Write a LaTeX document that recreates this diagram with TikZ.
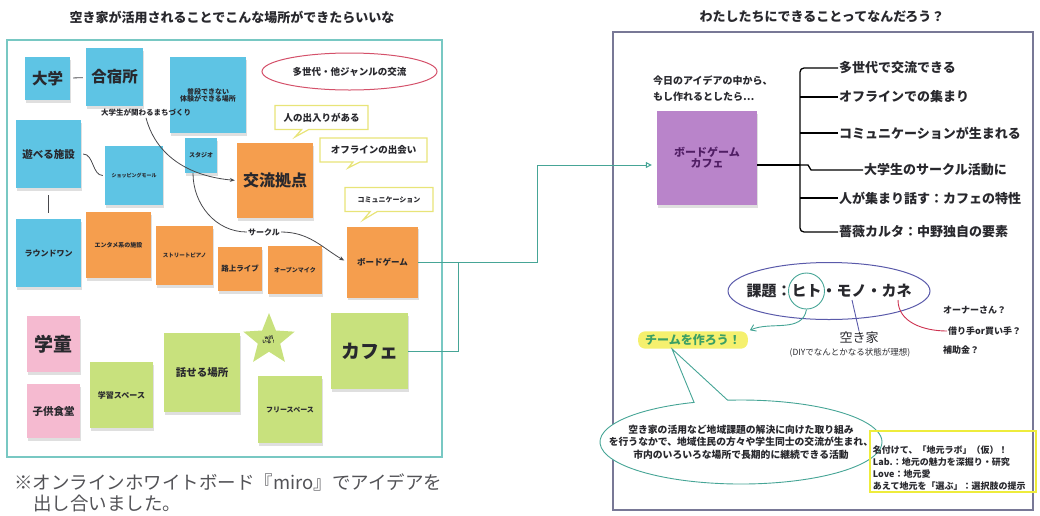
\documentclass[tikz,border=0pt]{standalone}
\usepackage{fontspec}
\setmainfont{Noto Sans CJK JP}
\usetikzlibrary{shapes.geometric,shapes.callouts,arrows.meta,shadows}

\definecolor{noteblue}{RGB}{94,196,228}
\definecolor{noteorange}{RGB}{245,158,78}
\definecolor{notegreen}{RGB}{200,225,125}
\definecolor{notepink}{RGB}{245,186,208}
\definecolor{notepurple}{RGB}{185,132,202}
\definecolor{frameteal}{RGB}{120,200,195}
\definecolor{framegray}{RGB}{120,120,150}
\definecolor{linkteal}{RGB}{70,165,150}
\definecolor{bubbleyellow}{RGB}{232,228,120}
\definecolor{boxyellow}{RGB}{238,236,60}
\definecolor{ringblue}{RGB}{90,90,170}
\definecolor{inkred}{RGB}{205,50,80}
\definecolor{teamgreen}{RGB}{60,160,100}
\definecolor{glow}{RGB}{245,240,110}
\definecolor{ink}{RGB}{40,40,45}

\newcommand{\jpsize}[1]{\fontsize{#1}{#1}\selectfont}

\begin{document}
\begin{tikzpicture}[x=1pt, y=-1pt,
    every node/.style={text=ink},
    note/.style={rectangle, inner sep=1pt, align=center,
        drop shadow={shadow xshift=0.5pt, shadow yshift=-2.5pt, opacity=.25}},
    bnote/.style={note, fill=noteblue},
    onote/.style={note, fill=noteorange},
    gnote/.style={note, fill=notegreen},
    pnote/.style={note, fill=notepink},
    bubble/.style={rectangle callout, draw=bubbleyellow, line width=1.2pt, fill=white,
        inner xsep=5pt, minimum height=24pt, font=\jpsize{9.5}\bfseries},
    wire/.style={draw=ink!85, line width=0.8pt},
    flow/.style={wire, -{Stealth[length=5pt, width=4pt]}},
    link/.style={draw=linkteal, line width=1pt},
    tree/.style={draw=black, line width=1.3pt},
    leaf/.style={anchor=west, inner sep=1pt, font=\jpsize{13}\bfseries},
    aside/.style={anchor=west, inner sep=1pt, font=\jpsize{9}\bfseries}]

    \useasboundingbox (0,0) rectangle (1040,515);

    %%%%%%%%%% Frames %%%%%%%%%%
    \draw[draw=frameteal, line width=1.5pt] (7,40) rectangle (442,457);
    \draw[draw=framegray, line width=1.3pt] (613,32) rectangle (1033,510);
    \node[font=\jpsize{13}\bfseries] (lefttitle) at (232,17) {空き家が活用されることでこんな場所ができたらいいな};
    \node[font=\jpsize{13}\bfseries] (righttitle) at (822,17) {わたしたちにできることってなんだろう？};

    %%%%%%%%%% Blue notes %%%%%%%%%%
    \node[bnote, minimum width=45pt, minimum height=43pt, font=\jpsize{15.5}\bfseries] (daigaku) at (47.5,78.5) {大学};
    \node[bnote, minimum width=57pt, minimum height=58pt, font=\jpsize{15.5}\bfseries] (gasshuku) at (114.5,77) {合宿所};
    \node[bnote, minimum width=76pt, minimum height=76pt, font=\jpsize{7}\bfseries] (fudan) at (208,95) {普段できない\\体験ができる場所};
    \node[bnote, minimum width=65pt, minimum height=68pt, font=\jpsize{10.5}\bfseries] (asoberu) at (48.5,154) {遊べる施設};
    \node[bnote, minimum width=58pt, minimum height=59pt, font=\jpsize{5}\bfseries] (shopping) at (134,175.5) {ショッピングモール};
    \node[bnote, minimum width=32pt, minimum height=35pt, font=\jpsize{6}\bfseries] (studio) at (201,155.5) {スタジオ};
    \node[bnote, minimum width=65pt, minimum height=68pt, font=\jpsize{8}\bfseries] (round1) at (48.5,253) {ラウンドワン};
    \node[font=\jpsize{7.5}\bfseries, inner sep=1pt] (machi) at (146,113) {大学生が関わるまちづくり};

    %%%%%%%%%% Orange notes %%%%%%%%%%
    \node[onote, minimum width=76pt, minimum height=75pt, font=\jpsize{16}\bfseries] (kouryu) at (275,180.5) {交流拠点};
    \node[onote, minimum width=65pt, minimum height=66pt, font=\jpsize{6}\bfseries] (entame) at (118.5,245) {エンタメ系の施設};
    \node[onote, minimum width=57pt, minimum height=59pt, font=\jpsize{5.5}\bfseries] (piano) at (184.5,255.5) {ストリートピアノ};
    \node[onote, minimum width=44pt, minimum height=44pt, font=\jpsize{7.5}\bfseries] (rojo) at (240,269) {路上ライブ};
    \node[onote, minimum width=54pt, minimum height=48pt, font=\jpsize{6}\bfseries] (openmic) at (295,270) {オープンマイク};
    \node[onote, minimum width=71pt, minimum height=71pt, font=\jpsize{8.5}\bfseries] (boardgame) at (382.5,262) {ボードゲーム};
    \node[font=\jpsize{8}\bfseries, inner sep=1pt, fill=white] (saakuru) at (264,232) {サークル};

    %%%%%%%%%% Green and pink notes %%%%%%%%%%
    \node[gnote, minimum width=63pt, minimum height=66pt, font=\jpsize{8}\bfseries] (gakushu) at (121.5,395) {学習スペース};
    \node[gnote, minimum width=76pt, minimum height=79pt, font=\jpsize{10.5}\bfseries] (hanaseru) at (202,372.5) {話せる場所};
    \node[gnote, minimum width=64pt, minimum height=67pt, font=\jpsize{7}\bfseries] (free) at (290,409.5) {フリースペース};
    \node[gnote, minimum width=77pt, minimum height=76pt, font=\jpsize{19}\bfseries] (cafe) at (369.5,351) {カフェ};
    \node[star, star points=5, star point ratio=2.3, fill=notegreen, minimum size=54pt, inner sep=0pt,
        align=center, font=\jpsize{4.5}\bfseries] (wifi) at (269,340) {wifi\\いる！};
    \node[pnote, minimum width=53pt, minimum height=56pt, font=\jpsize{19}\bfseries] (gakudou) at (53.5,344) {学童};
    \node[pnote, minimum width=53pt, minimum height=54pt, font=\jpsize{10.5}\bfseries] (kodomo) at (53.5,411) {子供食堂};

    %%%%%%%%%% Bubbles %%%%%%%%%%
    \node[draw=inkred!85, line width=1pt, ellipse, minimum width=175pt, minimum height=37pt, inner sep=1pt,
        font=\jpsize{9.5}\bfseries] (tasedai) at (349.5,71.5) {多世代・他ジャンルの交流};
    \node[bubble, minimum width=93pt, callout absolute pointer={(295,137)}] (deiri) at (321.5,117.5) {人の出入りがある};
    \node[bubble, minimum width=107pt, callout absolute pointer={(348,168)}] (deai) at (373.5,150) {オフラインの出会い};
    \node[bubble, minimum width=88pt, font=\jpsize{7}\bfseries, callout absolute pointer={(363,220)}] (comm) at (389,199.5) {コミュニケーション};

    %%%%%%%%%% Left connectors %%%%%%%%%%
    \draw[wire, shorten <=3pt, shorten >=3pt] (daigaku) -- (gasshuku);
    \draw[wire, shorten <=7pt, shorten >=6pt] (asoberu) -- (round1);
    \draw[wire, shorten <=2pt, shorten >=2pt] (asoberu.east) to[out=0, in=180] (shopping.west);
    \draw[flow, shorten >=2pt] (machi.south) to[out=-75, in=175] (kouryu.west);
    \draw[wire] ([xshift=-8pt]studio.south) to[out=-90, in=180] (saakuru.west);
    \draw[flow, shorten >=3pt] (saakuru.east) to[out=0, in=150] (boardgame.west);

    \node[anchor=west, inner sep=0pt, font=\jpsize{18.5}, text=ink!80] (remark) at (14,482) {※オンラインホワイトボード『miro』でアイデアを};
    \node[anchor=west, inner sep=0pt, font=\jpsize{18.5}, text=ink!80] (remark2) at (33,503) {出し合いました。};

    %%%%%%%%%% Right side %%%%%%%%%%
    \node[note, fill=notepurple, minimum width=100pt, minimum height=94pt, font=\jpsize{11}\bfseries,
        text={rgb,255:red,80;green,30;blue,100}] (bgcafe) at (707,158) {ボードゲーム\\カフェ};
    \node[anchor=north west, align=left, inner sep=0pt, font=\fontsize{10}{16}\selectfont\bfseries] (intro) at (653,76) {今日のアイデアの中から、\\もし作れるとしたら…};

    \coordinate (merge) at (458,262);
    \coordinate (bend) at (537,165);
    \draw[link] (cafe.east) -| (merge);
    \draw[link, -{Triangle[open, length=6pt, width=6pt]}, shorten >=5pt] (boardgame.east) -| (bend) -- ([yshift=-7pt]bgcafe.west);

    \node[leaf] (t1) at (838,68) {多世代で交流できる};
    \node[leaf] (t2) at (838,97) {オフラインでの集まり};
    \node[leaf] (t3) at (838,133) {コミュニケーションが生まれる};
    \node[leaf] (t4) at (863,170) {大学生のサークル活動に};
    \node[leaf] (t5) at (838,198) {人が集まり話す：カフェの特性};
    \node[leaf] (t6) at (838,232) {薔薇カルタ：中野独自の要素};

    \coordinate (fork) at (800,165);
    \draw[tree] ([yshift=-7pt]bgcafe.east) -- (fork);
    \draw[tree, rounded corners=4pt] (t1.west) -| (fork) |- (t6.west);
    \foreach \leafname in {t2,t3,t5}
        \draw[tree] (\leafname.west) -- (fork |- \leafname.west);
    \draw[tree] (fork) -- ++(8,0) -- ++(3,5) -- (t4.west);

    \node[draw=ringblue, line width=1pt, ellipse, minimum width=202pt, minimum height=57pt] (kadai) at (829,291) {};
    \node[font=\jpsize{15}\bfseries, inner sep=0pt] (kadaitext) at (kadai.center) {課題：ヒト・モノ・カネ};
    \node[draw=linkteal, line width=0.9pt, circle, minimum size=36pt] (hito) at (806.5,291) {};
    \coordinate (mono) at (852,300);
    \coordinate (kane) at (898,300);

    \node[font=\jpsize{12}\bfseries, text=teamgreen, fill=glow, rounded corners=7pt,
        inner xsep=7pt, inner ysep=3pt] (team) at (693,340) {チームを作ろう！};
    \node[font=\jpsize{13}, inner sep=1pt] (akiya) at (859,338) {空き家};
    \node[font=\jpsize{8.5}, inner sep=1pt] (diy) at (850,353) {(DIYでなんとかなる状態が理想)};
    \node[aside] (owner) at (942,310) {オーナーさん？};
    \node[aside] (karite) at (947,331) {借り手or買い手？};
    \node[aside] (hojo) at (942,350) {補助金？};

    \draw[draw=linkteal, line width=0.9pt, -{Straight Barb[length=5pt, width=7pt]}, shorten >=2pt] (hito.south) to[out=-100, in=25] (team.north east);
    \draw[draw=ringblue, line width=0.9pt] (mono) -- (akiya.north);
    \draw[draw=inkred, line width=0.9pt] (kane) to[out=-90, in=180] (karite.west);

    \node[ellipse callout, draw=linkteal, line width=0.9pt, fill=white, minimum width=282pt, minimum height=84pt,
        callout absolute pointer={([xshift=-21pt]team.south)}, callout pointer arc=14] (goal) at (741,442) {};
    \node[align=center, font=\fontsize{9.8}{12.5}\selectfont\bfseries, inner sep=0pt] (goaltext) at (goal.center)
        {空き家の活用など地域課題の解決に向けた取り組み\\を行うなかで、地域住民の方々や学生同士の交流が生まれ、\\市内のいろいろな場所で長期的に継続できる活動};

    \node[draw=boxyellow, line width=2.5pt, minimum width=166pt, minimum height=61pt] (labframe) at (953,461.5) {};
    \node[anchor=south west, align=left, inner sep=0pt, font=\fontsize{9}{11.8}\selectfont\bfseries] (labtext)
        at ([xshift=4pt, yshift=3pt]labframe.south west)
        {名付けて、「地元ラボ」（仮）！\\Lab.：地元の魅力を深掘り・研究\\Love：地元愛\\あえて地元を「選ぶ」：選択肢の提示};
\end{tikzpicture}
\end{document}
